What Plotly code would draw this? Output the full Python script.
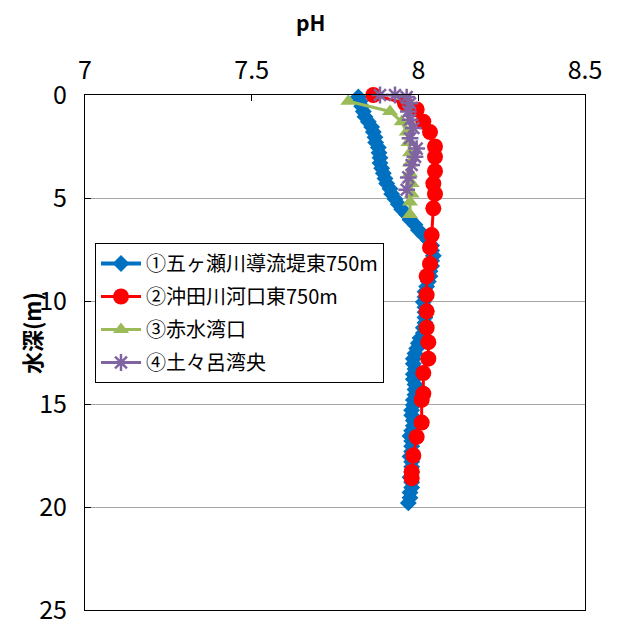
import plotly.graph_objects as go

# pH profiles by depth at four stations
depth_1 = [0.1, 0.3, 0.55, 0.8, 1.05, 1.3, 1.55, 1.8, 2.05, 2.3, 2.55, 2.8, 3.05, 3.3,
           3.55, 3.8, 4.05, 4.3, 4.55, 4.8, 5.05, 5.3, 5.55, 5.8, 6.05, 6.3, 6.55, 6.8,
           7.05, 7.3, 7.55, 7.8, 8.05, 8.3, 8.55, 8.8, 9.05, 9.3, 9.55, 9.8, 10.05,
           10.3, 10.55, 10.8, 11.05, 11.3, 11.55, 11.8, 12.05, 12.3, 12.55, 12.8,
           13.05, 13.3, 13.55, 13.8, 14.05, 14.3, 14.55, 14.8, 15.05, 15.3, 15.55,
           15.8, 16.05, 16.3, 16.55, 16.8, 17.05, 17.3, 17.55, 17.8, 18.05, 18.3,
           18.55, 18.8, 19.05, 19.3, 19.55, 19.8]
ph_1 = [7.82, 7.825, 7.83, 7.835, 7.84, 7.85, 7.86, 7.865, 7.87, 7.872, 7.88, 7.882,
        7.885, 7.885, 7.89, 7.895, 7.90, 7.905, 7.915, 7.92, 7.93, 7.94, 7.95, 7.965,
        7.975, 7.99, 8.00, 8.015, 8.03, 8.04, 8.04, 8.045, 8.04, 8.04, 8.035, 8.035,
        8.03, 8.025, 8.02, 8.02, 8.015, 8.02, 8.02, 8.02, 8.02, 8.015, 8.015, 8.005,
        8.0, 7.995, 7.99, 7.985, 7.985, 7.99, 7.985, 7.985, 7.99, 7.99, 7.99, 7.985,
        7.985, 7.98, 7.98, 7.985, 7.985, 7.98, 7.975, 7.98, 7.98, 7.98, 7.975, 7.98,
        7.98, 7.98, 7.975, 7.98, 7.98, 7.975, 7.975, 7.97]

depth_2 = [0.0, 0.4, 0.7, 1.3, 1.8, 2.5, 3.0, 3.7, 4.3, 4.8, 5.5, 6.8, 7.4, 8.2, 8.8,
           9.7, 10.5, 11.3, 12.0, 12.8, 13.5, 14.5, 14.8, 15.9, 16.6, 17.5, 18.3, 18.6]
ph_2 = [7.865, 7.96, 7.995, 8.015, 8.035, 8.05, 8.05, 8.05, 8.045, 8.05, 8.045, 8.04,
        8.035, 8.035, 8.025, 8.025, 8.025, 8.025, 8.03, 8.03, 8.015, 8.015, 8.01, 8.01,
        7.995, 7.985, 7.98, 7.98]

depth_3 = [0.3, 0.8, 1.3, 1.8, 2.3, 2.8, 3.3, 3.8, 4.3, 4.8, 5.2, 5.8]
ph_3 = [7.79, 7.915, 7.95, 7.965, 7.97, 7.975, 7.975, 7.975, 7.98, 7.98, 7.975, 7.975]

depth_4 = [0.0, 0.0, 0.1, 0.4, 0.8, 1.2, 1.6, 2.1, 2.6, 3.0, 3.4, 4.0, 4.6]
ph_4 = [7.885, 7.93, 7.965, 7.975, 7.97, 7.975, 7.985, 7.975, 7.995, 7.99, 7.98,
        7.97, 7.965]

names = ["①五ヶ瀬川導流堤東750m", "②沖田川河口東750m", "③赤水湾口", "④土々呂湾央"]

x_ticks = [7, 7.5, 8, 8.5]
y_ticks = [0, 5, 10, 15, 20, 25]

FONT = "Noto Sans CJK JP"

# figure / plot-area geometry in pixels
W, H = 617, 619
ML, MR, MT, MB = 85, 32, 95, 9
PW, PH = W - ML - MR, H - MT - MB


def px_to_paper(px, py):
    return (px - ML) / PW, (H - MB - py) / PH


fig = go.Figure()
fig.add_trace(go.Scatter(
    x=ph_1, y=depth_1, name=names[0], legendgroup="s1", mode="lines+markers",
    cliponaxis=False, line=dict(color="#0070C0", width=4),
    marker=dict(symbol="diamond", size=13, color="#0070C0")))
fig.add_trace(go.Scatter(
    x=ph_2, y=depth_2, name=names[1], legendgroup="s2", mode="lines+markers",
    cliponaxis=False, line=dict(color="#FF0000", width=3),
    marker=dict(symbol="circle", size=16, color="#FF0000")))
fig.add_trace(go.Scatter(
    x=ph_3, y=depth_3, name=names[2], legendgroup="s3", mode="lines+markers",
    cliponaxis=False, line=dict(color="#9BBB59", width=3),
    marker=dict(symbol="triangle-up", size=14, color="#9BBB59")))
fig.add_trace(go.Scatter(
    x=ph_4, y=depth_4, name=names[3], legendgroup="s4", mode="lines+markers",
    cliponaxis=False, line=dict(color="#8064A2", width=3),
    marker=dict(symbol="asterisk-open", size=14,
                line=dict(color="#8064A2", width=2.5))))

ph_x, ph_y = px_to_paper(310, 22)
ax_x, ax_y = px_to_paper(31, 333)
leg_x, leg_y = px_to_paper(95, 243)

fig.update_layout(
    width=W, height=H,
    margin=dict(l=ML, r=MR, t=MT, b=MB, autoexpand=False),
    paper_bgcolor="white", plot_bgcolor="white",
    font=dict(family=FONT, color="black"),
    showlegend=True,
    legend=dict(x=leg_x, y=leg_y, xanchor="left", yanchor="top",
                bgcolor="white", bordercolor="black", borderwidth=1,
                font=dict(family=FONT, size=20), tracegroupgap=4,
                itemwidth=40),
    xaxis=dict(side="top", range=[7, 8.5], tickvals=x_ticks,
               ticktext=[str(v) for v in x_ticks], automargin=False,
               tickfont=dict(size=25), showgrid=False, zeroline=False,
               showline=True, linecolor="black", linewidth=1, mirror=True,
               ticks="inside", ticklen=6, tickcolor="black",
               ticklabelstandoff=5),
    yaxis=dict(range=[25, 0], tickvals=y_ticks,
               ticktext=[str(v) for v in y_ticks], automargin=False,
               tickfont=dict(size=25), showgrid=True, gridcolor="#A6A6A6",
               gridwidth=1, zeroline=False,
               showline=True, linecolor="black", linewidth=1, mirror=True,
               ticks="inside", ticklen=6, tickcolor="black",
               ticklabelstandoff=12, ticklabeloverflow="allow"),
    annotations=[
        dict(text="<b>pH</b>", x=ph_x, y=ph_y, xref="paper", yref="paper",
             xanchor="center", yanchor="middle", showarrow=False,
             font=dict(size=21)),
        dict(text="<b>水深(m)</b>", x=ax_x, y=ax_y, xref="paper", yref="paper",
             xanchor="center", yanchor="middle", textangle=-90,
             showarrow=False, font=dict(size=22)),
    ],
)

fig.write_html("out.html")
